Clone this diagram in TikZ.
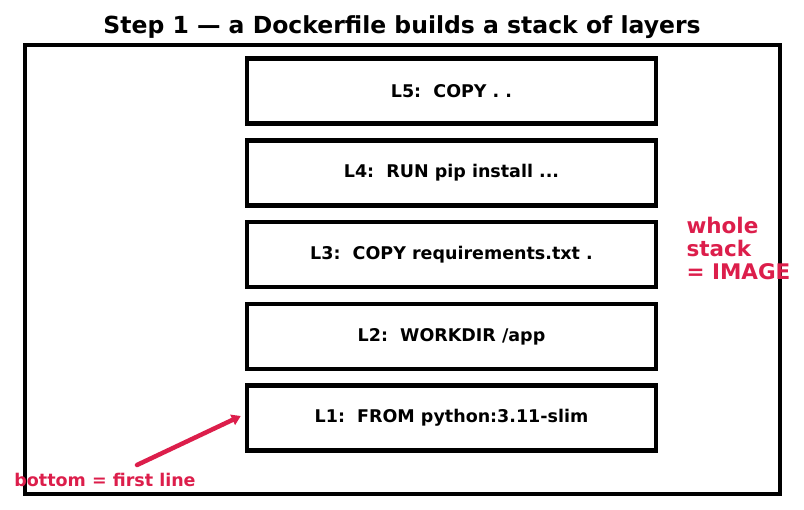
\documentclass[tikz,border=0pt]{standalone}
\usepackage{fontspec}
\setmainfont{DejaVu Sans}
\usetikzlibrary{arrows.meta}
\definecolor{hotred}{RGB}{220,30,75}

\begin{document}
\begin{tikzpicture}[x=1pt,y=-1pt,
  layer/.style={draw,line width=4.5pt,minimum width=409pt,minimum height=65pt,inner sep=0pt,font=\fontsize{17.5}{21}\selectfont\bfseries},
  note/.style={text=hotred,font=\bfseries}]
\useasboundingbox (0,0) rectangle (804,510);
\node[font=\fontsize{23.5}{28}\selectfont\bfseries] (title) at (402,27) {Step 1 --- a Dockerfile builds a stack of layers};
\draw[line width=4.5pt] (25,45) rectangle (780,494);
\node[layer] (L5) at (451.5,91) {L5:\ \ COPY . .};
\node[layer] (L4) at (451.5,173) {L4:\ \ RUN pip install ...};
\node[layer] (L3) at (451.5,254.5) {L3:\ \ COPY requirements.txt .};
\node[layer] (L2) at (451.5,336.5) {L2:\ \ WORKDIR /app};
\node[layer] (L1) at (451.5,418) {L1:\ \ FROM python:3.11-slim};
\node[note,anchor=west,align=left,font=\fontsize{21.5}{23}\selectfont\bfseries] (image) at (683,248) {whole\\stack\\= IMAGE};
\node[note,font=\fontsize{17.5}{20}\selectfont\bfseries] (bottom) at (105,480) {bottom = first line};
\coordinate (tail) at (137,465);
\draw[hotred,line width=4.5pt,line cap=round,-{Triangle[length=9pt,width=11pt]}] (tail) -- ([xshift=-4pt,yshift=2pt]L1.west);
\end{tikzpicture}
\end{document}
